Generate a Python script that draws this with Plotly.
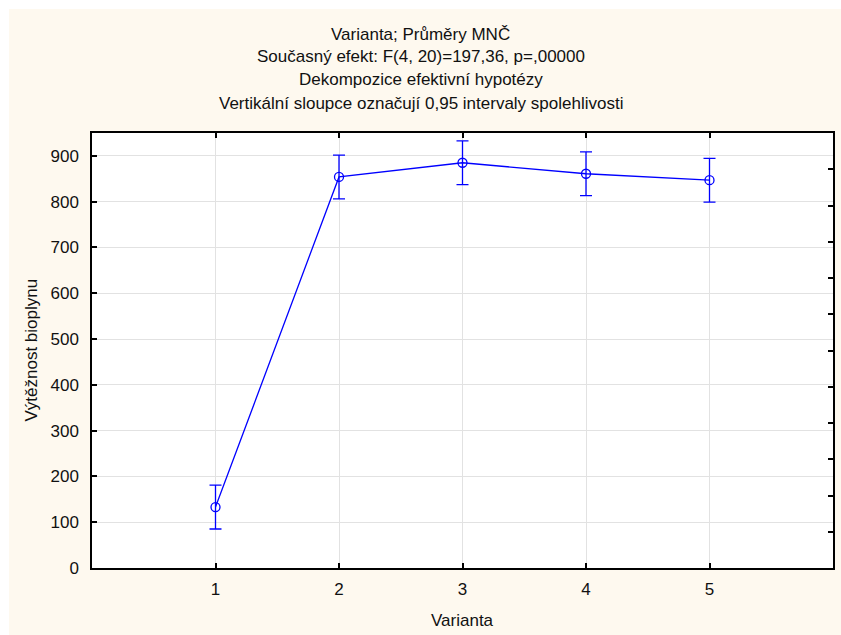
import plotly.graph_objects as go

# ---- data ----
varianta = [1, 2, 3, 4, 5]
prumery = [133, 854, 885, 861, 847]
ci95 = [47.8, 47.8, 47.8, 47.8, 47.8]
x_ticks = [1, 2, 3, 4, 5]
y_ticks = [0, 100, 200, 300, 400, 500, 600, 700, 800, 900]

title_lines = [
    "Varianta; Průměry MNČ",
    "Současný efekt: F(4, 20)=197,36, p=,00000",
    "Dekompozice efektivní hypotézy",
    "Vertikální sloupce označují 0,95 intervaly spolehlivosti",
]
x_title = "Varianta"
y_title = "Výtěžnost bioplynu"

W, H = 841, 635
L, R, T, B = 92, 8, 133, 67
PW, PH = W - L - R, H - T - B
FONT = "Liberation Sans, Arial, sans-serif"
FS = 17
BLUE = "#0000FF"
BEIGE = "#FEF9EF"
TXT = "#111"

fig = go.Figure()
fig.add_trace(go.Scatter(
    x=varianta, y=prumery, mode="lines+markers",
    line=dict(color=BLUE, width=1.3),
    marker=dict(symbol="circle-open", size=9, color=BLUE, line=dict(width=1.3, color=BLUE)),
    error_y=dict(type="data", array=ci95, visible=True, color=BLUE, thickness=1.3, width=6),
    showlegend=False,
))
# invisible trace to activate right axis
fig.add_trace(go.Scatter(x=[None], y=[None], yaxis="y2", showlegend=False, hoverinfo="skip"))

fig.update_layout(
    width=W, height=H,
    margin=dict(l=L, r=R, t=T, b=B),
    paper_bgcolor=BEIGE, plot_bgcolor="white",
    font=dict(family=FONT, size=FS, color=TXT),
    xaxis=dict(range=[0, 6], tickvals=x_ticks, ticks="inside", ticklen=5, tickwidth=1.5,
               tickcolor="black", showline=True, linecolor="black", linewidth=1.5,
               mirror="ticks", showgrid=True, gridcolor="#e2e2e2", gridwidth=1,
               zeroline=False, ticklabelstandoff=5, tickfont=dict(size=FS)),
    yaxis=dict(range=[0, 950], tickvals=y_ticks, ticks="inside", ticklen=5, tickwidth=1.5,
               tickcolor="black", showline=True, linecolor="black", linewidth=1.5,
               showgrid=True, gridcolor="#e2e2e2", gridwidth=1, zeroline=False,
               ticklabelstandoff=8, tickfont=dict(size=FS)),
    yaxis2=dict(overlaying="y", side="right", range=[0, 12], dtick=1, ticks="inside",
                ticklen=5, tickwidth=1.5, tickcolor="black", showticklabels=False,
                showline=True, linecolor="black", linewidth=1.5, showgrid=False, zeroline=False),
)

# white outer strips (top and left)
fig.add_shape(type="rect", xref="paper", yref="paper", layer="below",
              x0=-L / PW - 0.05, x1=-(L - 9) / PW, y0=-B / PH - 0.1, y1=1 + T / PH + 0.1,
              line_width=0, fillcolor="white")
fig.add_shape(type="rect", xref="paper", yref="paper", layer="below",
              x0=-L / PW - 0.05, x1=1 + R / PW + 0.05, y0=1 + (T - 9) / PH, y1=1 + T / PH + 0.1,
              line_width=0, fillcolor="white")

# title lines
for i, txt in enumerate(title_lines):
    yc = 34 + i * 23
    fig.add_annotation(text=txt, xref="paper", yref="paper",
                       x=(W / 2 - L) / PW, y=1 + (T - yc) / PH,
                       xanchor="center", yanchor="middle", showarrow=False,
                       font=dict(size=FS, family=FONT, color=TXT))

fig.add_annotation(text=x_title, xref="paper", yref="paper",
                   x=(462 - L) / PW, y=-(620 - (T + PH)) / PH,
                   xanchor="center", yanchor="middle", showarrow=False,
                   font=dict(size=FS, family=FONT, color=TXT))
fig.add_annotation(text=y_title, xref="paper", yref="paper", textangle=-90,
                   x=-(L - 31) / PW, y=0.5,
                   xanchor="center", yanchor="middle", showarrow=False,
                   font=dict(size=FS, family=FONT, color=TXT))

fig.write_html("out.html")
